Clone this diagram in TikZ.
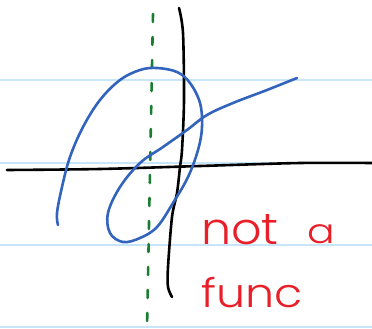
\documentclass[tikz,border=0pt]{standalone}
\usepackage{fontspec}
\usepackage{graphicx}
\newfontfamily\handfont{Poppins}[UprightFont=* Light]
\definecolor{ruleblue}{RGB}{200,230,250}
\definecolor{curveblue}{RGB}{50,100,190}
\definecolor{dashgreen}{RGB}{25,125,50}
\definecolor{inkred}{RGB}{232,30,40}
\tikzset{
  ruleline/.style={ruleblue, line width=1.3pt},
  axisline/.style={black, line width=2.6pt, line cap=round, line join=round},
  curveline/.style={curveblue, line width=2.6pt, line cap=round, line join=round},
  vertline/.style={dashgreen, line width=2.6pt, line cap=round, dash pattern=on 8pt off 15pt},
  inktext/.style={inkred, inner sep=0pt, font=\handfont}
}
\begin{document}
\begin{tikzpicture}[x=1pt,y=-1pt]
\fill[white] (0,0) rectangle (372,329);
\useasboundingbox (0,0) rectangle (372,329);
% notebook rules
\foreach \yy in {80,163,245,327} \draw[ruleline] (0,\yy) -- (372,\yy);
% green dashed vertical line
\draw[vertline] (153,14) -- (147,329);
% axes
\draw[axisline] plot[smooth, tension=0.5] coordinates {(7,170) (100,169) (200,166) (300,163) (372,163)};
\draw[axisline] plot[smooth, tension=0.5] coordinates {(179,8) (183,33) (184,100) (182,150) (180,167) (177,193) (172,217) (168,267) (168,287) (172,297)};
% blue curve
\draw[curveline] plot[smooth, tension=0.6] coordinates {
 (58,225) (57,213) (62,187) (70,157) (83,127) (100,100) (120,80) (140,70) (157,68) (177,72) (190,83) (200,103) (202,127) (198,150) (188,177) (173,203) (157,227) (140,238) (123,242) (110,233) (108,213) (120,187) (140,163) (163,147) (187,130) (207,115) (233,103) (267,90) (297,78)};
% red text
\node[inktext, anchor=base west] (wnot) at (201,244) {\fontsize{44}{44}\selectfont\scalebox{1.08}[1]{not}};
\node[inktext, anchor=base west] (wa) at (307,243) {\fontsize{34}{34}\selectfont\scalebox{1.2}[1]{a}};
\node[inktext, anchor=base west] (wfunc) at (201,307) {\fontsize{40}{40}\selectfont\scalebox{1.15}[1]{func}};
\end{tikzpicture}
\end{document}
